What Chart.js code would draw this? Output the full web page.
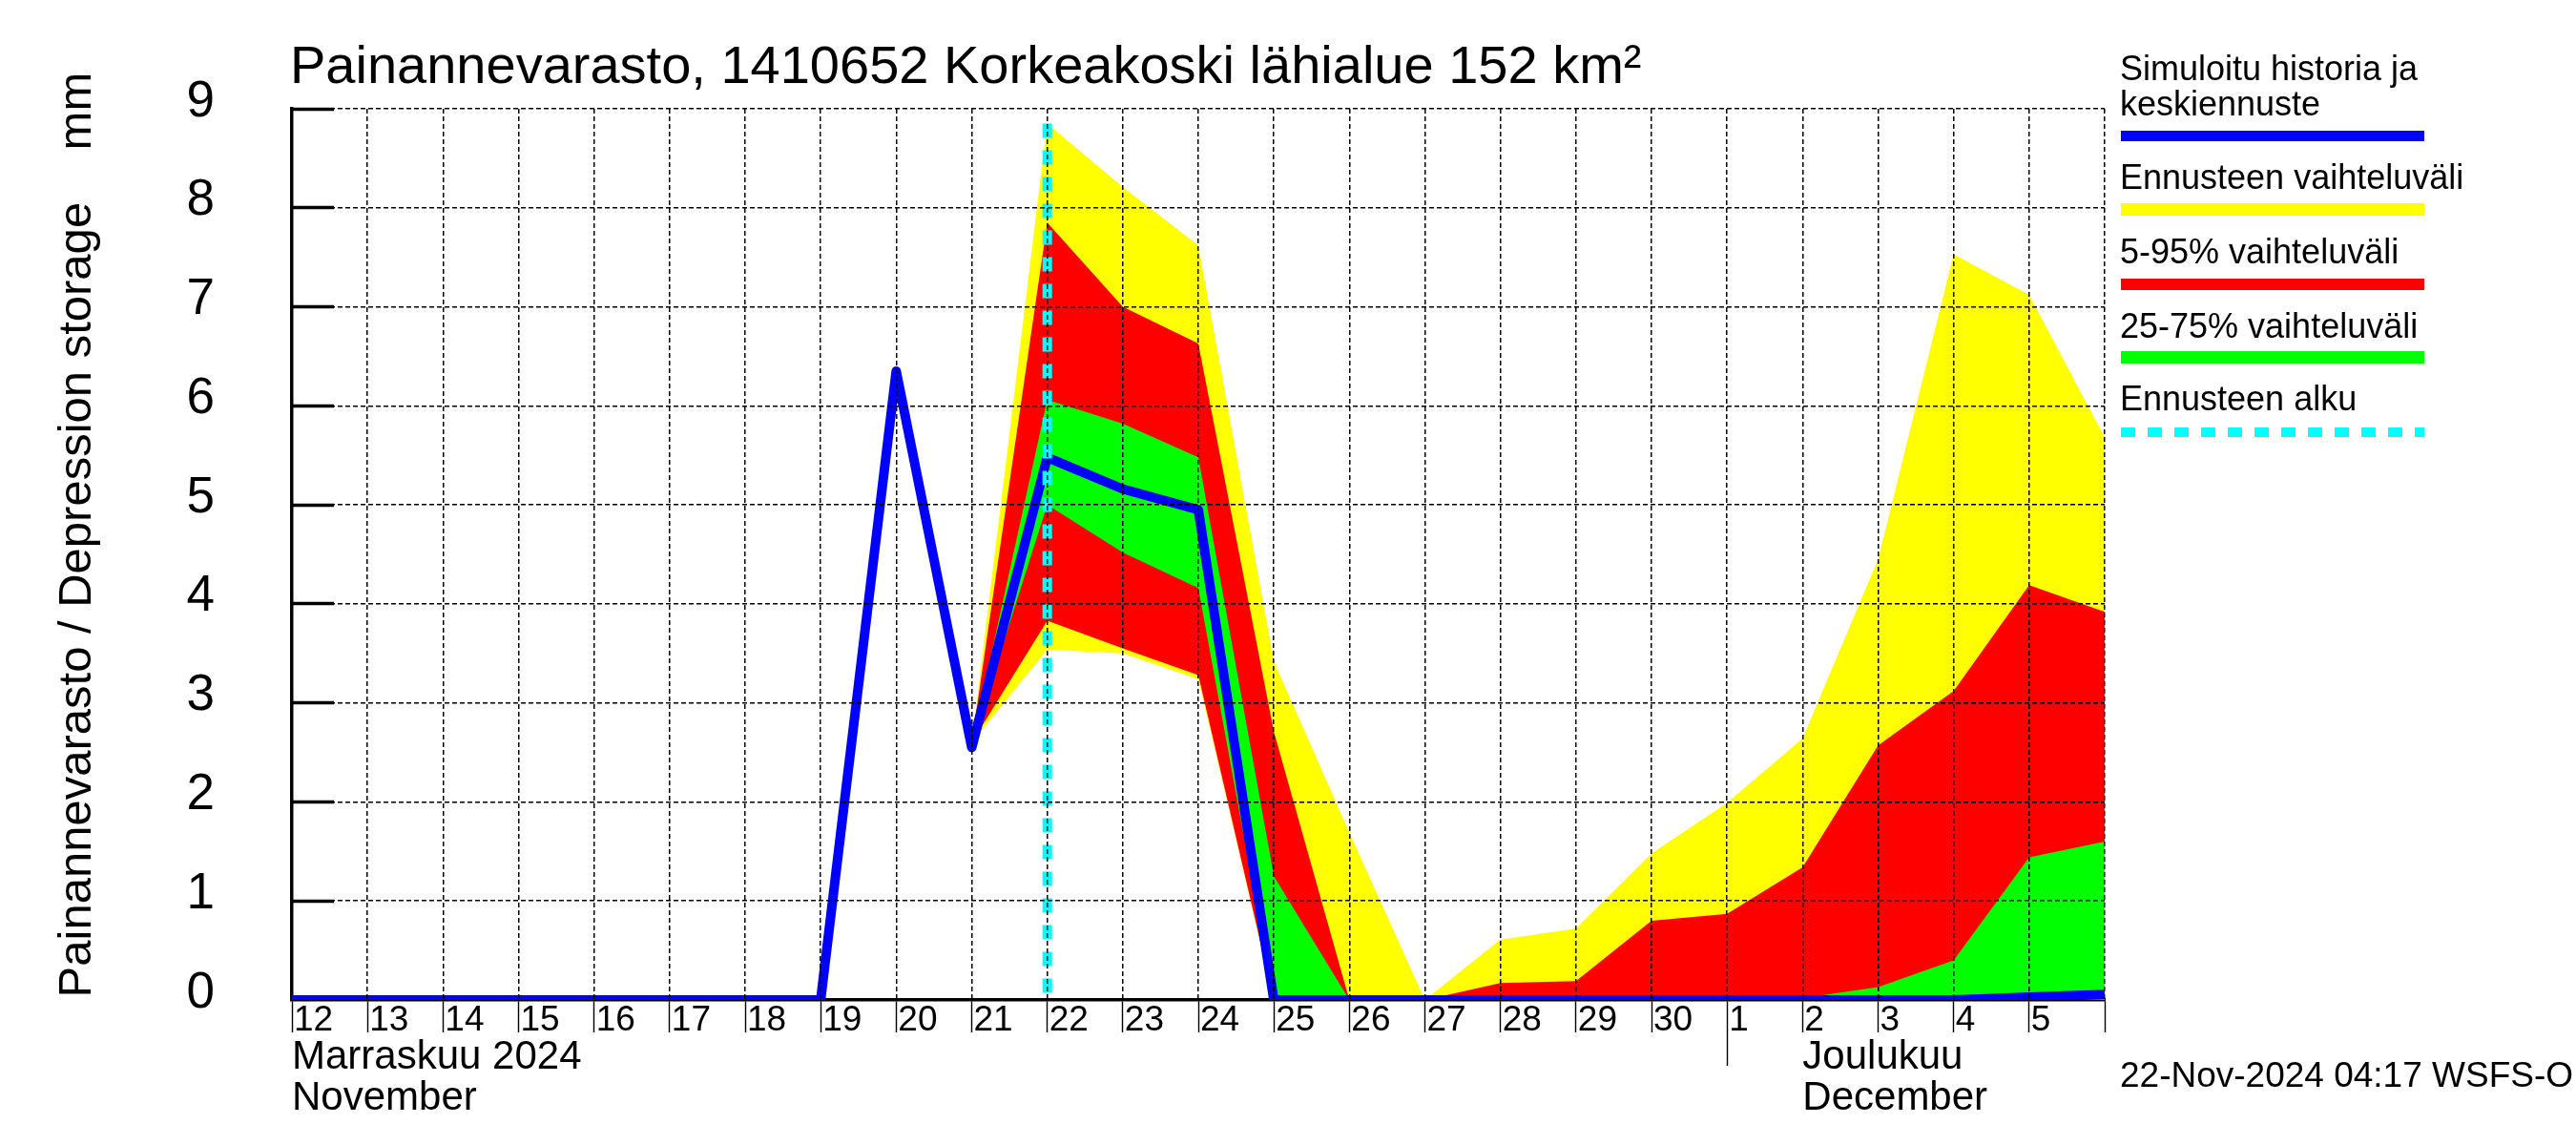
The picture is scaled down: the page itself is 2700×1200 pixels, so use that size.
<!DOCTYPE html>
<html lang="fi">
<head>
<meta charset="UTF-8">
<title>Painannevarasto, 1410652 Korkeakoski lähialue</title>
<script src="https://cdn.jsdelivr.net/npm/chart.js@4.4.1/dist/chart.umd.min.js"></script>
<style>
    body { margin: 0; background: #fff; }
    #wrap { position: relative; width: 2700px; height: 1200px; font-family: "Liberation Sans", Arial, sans-serif; color: #000; }
    #chart { position: absolute; left: 0; top: 0; }
    .txt { position: absolute; white-space: nowrap; }
    .title { left: 304px; top: 40px; font-size: 56px; line-height: 56px; }
    .leg { left: 2222px; font-size: 36px; line-height: 37px; }
    .bar { position: absolute; left: 2223px; width: 318px; }
    .stamp { left: 2222px; top: 1108px; font-size: 37px; line-height: 37px; }
</style>
</head>
<body>
<div id="wrap">
    <canvas id="chart" width="2700" height="1200"></canvas>
    <div class="txt title">Painannevarasto, 1410652 Korkeakoski lähialue 152 km²</div>

    <div class="txt leg" style="top:53px">Simuloitu historia ja<br>keskiennuste</div>
    <div class="bar" style="top:137px;height:11px;background:#0000ff"></div>
    <div class="txt leg" style="top:167px">Ennusteen vaihteluväli</div>
    <div class="bar" style="top:213px;height:13px;background:#ffff00"></div>
    <div class="txt leg" style="top:245px">5-95% vaihteluväli</div>
    <div class="bar" style="top:292px;height:12px;background:#ff0000"></div>
    <div class="txt leg" style="top:323px">25-75% vaihteluväli</div>
    <div class="bar" style="top:368px;height:13px;background:#00ff00"></div>
    <div class="txt leg" style="top:399px">Ennusteen alku</div>
    <div class="bar" style="top:448px;height:10px;background:repeating-linear-gradient(90deg,#00ffff 0 15px,transparent 15px 28px)"></div>

    <div class="txt stamp">22-Nov-2024 04:17 WSFS-O</div>
</div>

<script>
    // paivat 12.11. - 6.12.2024, indeksi 0 = 12.11.
    const dayLabels = ['12','13','14','15','16','17','18','19','20','21','22','23','24',
                       '25','26','27','28','29','30','1','2','3','4','5'];
    const monthTicks = [0, 20];
    const monthNames = [['Marraskuu 2024', 'November'], ['Joulukuu', 'December']];
    const monthSeparator = 19;
    const forecastStart = 10;

    // simuloitu historia ja keskiennuste (mm)
    const simulated = [0, 0, 0, 0, 0, 0, 0, 0, 6.35, 2.55, 5.48, 5.16, 4.95,
                       0, 0, 0, 0, 0, 0, 0, 0, 0, 0, 0.03, 0.055];

    // ennusteen vaihteluvali (min / max)
    const rangeHigh = [null, null, null, null, null, null, null, null, null,
                       2.6, 8.85, 8.21, 7.62, 3.42, 1.69, 0, 0.61, 0.72, 1.48, 1.99, 2.64, 4.45, 7.53, 7.12, 5.68];
    const rangeLow  = [null, null, null, null, null, null, null, null, null,
                       2.6, 3.54, 3.5, 3.24, 0, 0, 0, 0, 0, 0, 0, 0, 0, 0, 0, 0];
    // 5-95 %
    const p95 = [null, null, null, null, null, null, null, null, null,
                 2.6, 7.85, 7.0, 6.63, 2.71, 0, 0, 0.17, 0.19, 0.8, 0.87, 1.34, 2.57, 3.12, 4.19, 3.92];
    const p5  = [null, null, null, null, null, null, null, null, null,
                 2.6, 3.83, 3.55, 3.28, 0, 0, 0, 0, 0, 0, 0, 0, 0, 0, 0, 0];
    // 25-75 %
    const p75 = [null, null, null, null, null, null, null, null, null,
                 2.6, 6.06, 5.82, 5.48, 1.25, 0, 0, 0, 0, 0.01, 0, 0.02, 0.13, 0.4, 1.44, 1.6];
    const p25 = [null, null, null, null, null, null, null, null, null,
                 2.6, 5.0, 4.52, 4.16, 0, 0, 0, 0, 0, 0, 0, 0, 0, 0, 0, 0];

    const FONT = '"Liberation Sans", Arial, sans-serif';
    const NONE = 'rgba(0,0,0,0)';

    function pts(arr) {
        return arr.map((v, i) => ({x: i, y: v}));
    }

    function band(arr, color, order, fill) {
        return {
            data: pts(arr),
            xAxisID: 'x',
            yAxisID: 'y',
            borderWidth: 0,
            pointRadius: 0,
            backgroundColor: color,
            fill: fill,
            order: order,
            spanGaps: false
        };
    }

    function dayTicks(s) {
        s.ticks = [];
        for (let i = 0; i <= 24; i++) s.ticks.push({value: i});
    }

    function noPad(s) {
        s.paddingTop = 0;
        s.paddingBottom = 0;
        s.paddingLeft = 0;
        s.paddingRight = 0;
    }

    // katkoviivaruudukko piirretaan datan paalle (z: 1)
    const gridOnTop = {
        z: 1,
        drawTicks: false,
        lineWidth: 1.5,
        color: (ctx) => (ctx.tick && ctx.tick.value === 0) ? NONE : '#000'
    };

    new Chart(document.getElementById('chart'), {
        type: 'line',
        data: {
            datasets: [
                {
                    // ennusteen alku
                    data: [{x: forecastStart, y: rangeHigh[forecastStart]}, {x: forecastStart, y: 0}],
                    xAxisID: 'x',
                    yAxisID: 'y',
                    borderColor: '#00ffff',
                    borderWidth: 10,
                    borderDash: [15, 13],
                    pointRadius: 0,
                    fill: false,
                    order: 0
                },
                {
                    data: pts(simulated),
                    xAxisID: 'x',
                    yAxisID: 'y',
                    borderColor: '#0000ff',
                    borderWidth: 10,
                    borderJoinStyle: 'round',
                    pointRadius: 0,
                    fill: false,
                    order: 1
                },
                band(p75, '#00ff00', 2, '+1'),
                band(p25, '#00ff00', 2, false),
                band(p95, '#ff0000', 3, '+1'),
                band(p5, '#ff0000', 3, false),
                band(rangeHigh, '#ffff00', 4, '+1'),
                band(rangeLow, '#ffff00', 4, false)
            ]
        },
        options: {
            responsive: false,
            animation: false,
            devicePixelRatio: 1,
            layout: { padding: { top: 114, right: 494, bottom: 18, left: 0 } },
            plugins: {
                legend: { display: false },
                tooltip: { enabled: false },
                title: { display: false }
            },
            scales: {
                x: {
                    type: 'linear',
                    position: 'bottom',
                    weight: 0,
                    min: 0,
                    max: 24,
                    afterBuildTicks: dayTicks,
                    afterFit: (s) => { s.height = 34; noPad(s); },
                    ticks: {
                        autoSkip: false,
                        maxRotation: 0,
                        minRotation: 0,
                        align: 'start',
                        labelOffset: 2,
                        padding: -34,
                        color: '#000',
                        font: { family: FONT, size: 37 },
                        callback: (v) => dayLabels[v] !== undefined ? dayLabels[v] : ''
                    },
                    grid: {
                        drawOnChartArea: false,
                        tickLength: 34,
                        tickColor: '#000',
                        tickWidth: 1.4
                    },
                    border: { display: true, color: '#000', width: 3.5 }
                },
                x2: {
                    type: 'linear',
                    position: 'bottom',
                    weight: 1,
                    min: 0,
                    max: 24,
                    afterBuildTicks: (s) => {
                        s.ticks = [{value: monthTicks[0]}, {value: monthSeparator}, {value: monthTicks[1]}];
                    },
                    afterFit: (s) => { s.height = 100; noPad(s); },
                    ticks: {
                        autoSkip: false,
                        maxRotation: 0,
                        minRotation: 0,
                        align: 'start',
                        padding: -30,
                        color: '#000',
                        font: { family: FONT, size: 42, lineHeight: 1.03 },
                        callback: (v) => {
                            const k = monthTicks.indexOf(v);
                            return k >= 0 ? monthNames[k] : '';
                        }
                    },
                    grid: {
                        drawOnChartArea: false,
                        tickLength: 35,
                        tickWidth: 1.4,
                        tickColor: (ctx) => (ctx.tick && ctx.tick.value === monthSeparator) ? '#000' : NONE
                    },
                    border: { display: false }
                },
                xg: {
                    type: 'linear',
                    position: 'bottom',
                    weight: -1,
                    min: 0,
                    max: 24,
                    afterBuildTicks: dayTicks,
                    afterFit: (s) => { s.height = 0; noPad(s); },
                    ticks: { display: false },
                    grid: gridOnTop,
                    border: { display: false, dash: [5, 3] }
                },
                y: {
                    type: 'linear',
                    position: 'left',
                    weight: 0,
                    min: 0,
                    max: 9,
                    afterFit: (s) => { s.width = 306; noPad(s); },
                    ticks: {
                        stepSize: 1,
                        padding: 125,
                        labelOffset: -7,
                        color: '#000',
                        font: { family: FONT, size: 53 }
                    },
                    grid: {
                        drawOnChartArea: false,
                        tickLength: -44,
                        tickWidth: 3.5,
                        tickColor: (ctx) => (ctx.tick && ctx.tick.value === 0) ? NONE : '#000'
                    },
                    border: { display: true, color: '#000', width: 3.5 },
                    title: {
                        display: true,
                        text: '   Painannevarasto / Depression storage    mm',
                        color: '#000',
                        font: { family: FONT, size: 49 },
                        padding: { top: 52, bottom: 0 }
                    }
                },
                yg: {
                    type: 'linear',
                    position: 'left',
                    weight: 1,
                    min: 0,
                    max: 9,
                    afterFit: (s) => { s.width = 0; noPad(s); },
                    ticks: { display: false, stepSize: 1 },
                    grid: gridOnTop,
                    border: { display: false, dash: [5, 3] }
                }
            }
        }
    });
</script>
</body>
</html>
